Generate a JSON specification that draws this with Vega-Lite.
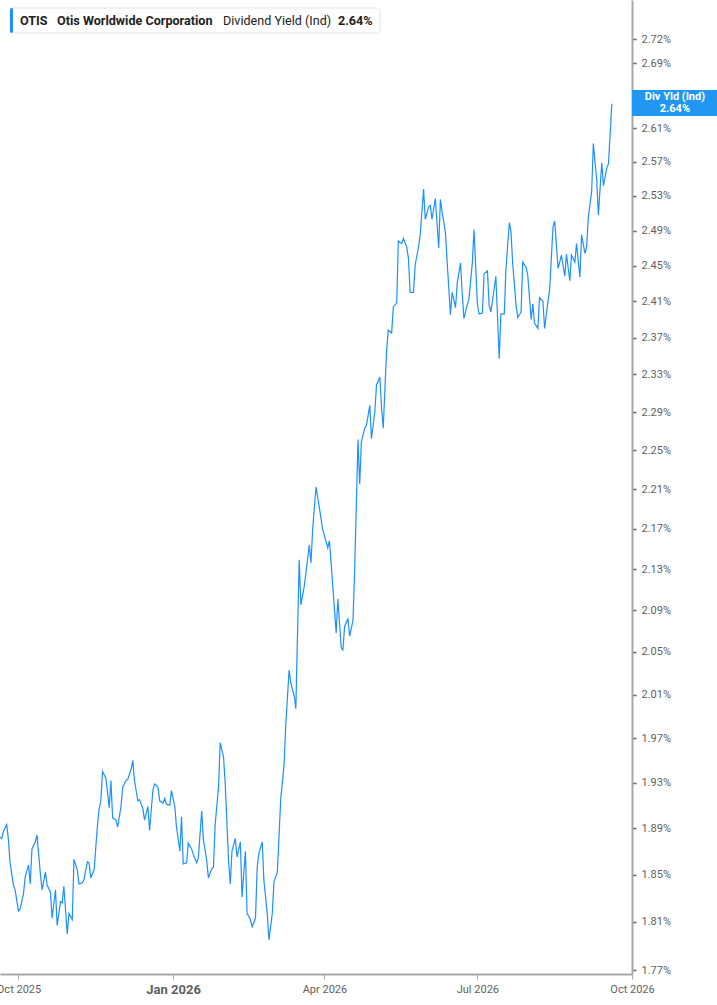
{
  "$schema": "https://vega.github.io/schema/vega-lite/v6.json",
  "width": 632,
  "height": 974,
  "autosize": {"type": "none"},
  "padding": {"left": 0, "top": 0, "right": 85, "bottom": 31},
  "background": "#ffffff",
  "config": {"view": {"stroke": null}, "font": "Roboto"},
  "datasets": {
    "yield": [
      {"date": "2025-09-20", "v": 1.882}, {"date": "2025-09-21", "v": 1.881}, {"date": "2025-09-22", "v": 1.887},
      {"date": "2025-09-24", "v": 1.893}, {"date": "2025-09-25", "v": 1.880}, {"date": "2025-09-26", "v": 1.860},
      {"date": "2025-09-28", "v": 1.841}, {"date": "2025-09-29", "v": 1.837}, {"date": "2025-10-01", "v": 1.819},
      {"date": "2025-10-02", "v": 1.821}, {"date": "2025-10-04", "v": 1.834}, {"date": "2025-10-05", "v": 1.848},
      {"date": "2025-10-07", "v": 1.858}, {"date": "2025-10-08", "v": 1.842}, {"date": "2025-10-09", "v": 1.872},
      {"date": "2025-10-11", "v": 1.878}, {"date": "2025-10-12", "v": 1.884}, {"date": "2025-10-14", "v": 1.851},
      {"date": "2025-10-15", "v": 1.837}, {"date": "2025-10-17", "v": 1.852}, {"date": "2025-10-18", "v": 1.841},
      {"date": "2025-10-20", "v": 1.835}, {"date": "2025-10-21", "v": 1.813}, {"date": "2025-10-23", "v": 1.837},
      {"date": "2025-10-24", "v": 1.807}, {"date": "2025-10-26", "v": 1.827}, {"date": "2025-10-27", "v": 1.826},
      {"date": "2025-10-28", "v": 1.840}, {"date": "2025-10-30", "v": 1.800}, {"date": "2025-10-31", "v": 1.817},
      {"date": "2025-11-02", "v": 1.812}, {"date": "2025-11-03", "v": 1.863}, {"date": "2025-11-05", "v": 1.854},
      {"date": "2025-11-06", "v": 1.842}, {"date": "2025-11-08", "v": 1.843}, {"date": "2025-11-09", "v": 1.846},
      {"date": "2025-11-11", "v": 1.861}, {"date": "2025-11-12", "v": 1.860}, {"date": "2025-11-13", "v": 1.847},
      {"date": "2025-11-15", "v": 1.854}, {"date": "2025-11-17", "v": 1.893}, {"date": "2025-11-18", "v": 1.907},
      {"date": "2025-11-19", "v": 1.914}, {"date": "2025-11-20", "v": 1.940}, {"date": "2025-11-22", "v": 1.934},
      {"date": "2025-11-24", "v": 1.908}, {"date": "2025-11-25", "v": 1.932}, {"date": "2025-11-26", "v": 1.899},
      {"date": "2025-11-28", "v": 1.897}, {"date": "2025-11-29", "v": 1.891}, {"date": "2025-12-01", "v": 1.909},
      {"date": "2025-12-02", "v": 1.926}, {"date": "2025-12-04", "v": 1.932}, {"date": "2025-12-05", "v": 1.933},
      {"date": "2025-12-07", "v": 1.942}, {"date": "2025-12-08", "v": 1.950}, {"date": "2025-12-09", "v": 1.932},
      {"date": "2025-12-11", "v": 1.914}, {"date": "2025-12-12", "v": 1.915}, {"date": "2025-12-14", "v": 1.907},
      {"date": "2025-12-15", "v": 1.897}, {"date": "2025-12-17", "v": 1.909}, {"date": "2025-12-18", "v": 1.888},
      {"date": "2025-12-20", "v": 1.924}, {"date": "2025-12-21", "v": 1.929}, {"date": "2025-12-23", "v": 1.926},
      {"date": "2025-12-24", "v": 1.914}, {"date": "2025-12-26", "v": 1.912}, {"date": "2025-12-27", "v": 1.916},
      {"date": "2025-12-28", "v": 1.911}, {"date": "2025-12-30", "v": 1.910}, {"date": "2025-12-31", "v": 1.923},
      {"date": "2026-01-02", "v": 1.909}, {"date": "2026-01-03", "v": 1.891}, {"date": "2026-01-05", "v": 1.870},
      {"date": "2026-01-06", "v": 1.900}, {"date": "2026-01-07", "v": 1.859}, {"date": "2026-01-09", "v": 1.860},
      {"date": "2026-01-10", "v": 1.877}, {"date": "2026-01-12", "v": 1.872}, {"date": "2026-01-13", "v": 1.867},
      {"date": "2026-01-15", "v": 1.860}, {"date": "2026-01-16", "v": 1.864}, {"date": "2026-01-18", "v": 1.905},
      {"date": "2026-01-19", "v": 1.880}, {"date": "2026-01-21", "v": 1.862}, {"date": "2026-01-22", "v": 1.847},
      {"date": "2026-01-24", "v": 1.855}, {"date": "2026-01-25", "v": 1.856}, {"date": "2026-01-26", "v": 1.893},
      {"date": "2026-01-28", "v": 1.926}, {"date": "2026-01-29", "v": 1.966}, {"date": "2026-01-31", "v": 1.953},
      {"date": "2026-02-01", "v": 1.929}, {"date": "2026-02-03", "v": 1.861}, {"date": "2026-02-04", "v": 1.842},
      {"date": "2026-02-05", "v": 1.870}, {"date": "2026-02-07", "v": 1.881}, {"date": "2026-02-08", "v": 1.865},
      {"date": "2026-02-10", "v": 1.878}, {"date": "2026-02-11", "v": 1.831}, {"date": "2026-02-13", "v": 1.870},
      {"date": "2026-02-14", "v": 1.817}, {"date": "2026-02-16", "v": 1.812}, {"date": "2026-02-17", "v": 1.806},
      {"date": "2026-02-19", "v": 1.813}, {"date": "2026-02-20", "v": 1.856}, {"date": "2026-02-21", "v": 1.868},
      {"date": "2026-02-23", "v": 1.878}, {"date": "2026-02-24", "v": 1.845}, {"date": "2026-02-26", "v": 1.817},
      {"date": "2026-02-27", "v": 1.795}, {"date": "2026-03-01", "v": 1.817}, {"date": "2026-03-02", "v": 1.844},
      {"date": "2026-03-04", "v": 1.852}, {"date": "2026-03-05", "v": 1.883}, {"date": "2026-03-06", "v": 1.915},
      {"date": "2026-03-08", "v": 1.946}, {"date": "2026-03-09", "v": 1.982}, {"date": "2026-03-11", "v": 2.033},
      {"date": "2026-03-12", "v": 2.021}, {"date": "2026-03-14", "v": 2.009}, {"date": "2026-03-15", "v": 1.997},
      {"date": "2026-03-17", "v": 2.139}, {"date": "2026-03-18", "v": 2.095}, {"date": "2026-03-20", "v": 2.113},
      {"date": "2026-03-21", "v": 2.126}, {"date": "2026-03-23", "v": 2.154}, {"date": "2026-03-24", "v": 2.136},
      {"date": "2026-03-25", "v": 2.169}, {"date": "2026-03-27", "v": 2.212}, {"date": "2026-03-28", "v": 2.202},
      {"date": "2026-03-30", "v": 2.180}, {"date": "2026-03-31", "v": 2.169}, {"date": "2026-04-02", "v": 2.157},
      {"date": "2026-04-03", "v": 2.151}, {"date": "2026-04-04", "v": 2.158}, {"date": "2026-04-06", "v": 2.113},
      {"date": "2026-04-08", "v": 2.068}, {"date": "2026-04-09", "v": 2.101}, {"date": "2026-04-11", "v": 2.054},
      {"date": "2026-04-12", "v": 2.052}, {"date": "2026-04-13", "v": 2.074}, {"date": "2026-04-15", "v": 2.082},
      {"date": "2026-04-16", "v": 2.065}, {"date": "2026-04-18", "v": 2.080}, {"date": "2026-04-19", "v": 2.129},
      {"date": "2026-04-21", "v": 2.261}, {"date": "2026-04-22", "v": 2.215}, {"date": "2026-04-23", "v": 2.259},
      {"date": "2026-04-25", "v": 2.273}, {"date": "2026-04-26", "v": 2.276}, {"date": "2026-04-28", "v": 2.297},
      {"date": "2026-04-29", "v": 2.262}, {"date": "2026-05-01", "v": 2.290}, {"date": "2026-05-02", "v": 2.319},
      {"date": "2026-05-04", "v": 2.327}, {"date": "2026-05-05", "v": 2.294}, {"date": "2026-05-06", "v": 2.273},
      {"date": "2026-05-08", "v": 2.356}, {"date": "2026-05-09", "v": 2.378}, {"date": "2026-05-11", "v": 2.375},
      {"date": "2026-05-12", "v": 2.404}, {"date": "2026-05-14", "v": 2.408}, {"date": "2026-05-15", "v": 2.478},
      {"date": "2026-05-17", "v": 2.475}, {"date": "2026-05-18", "v": 2.481}, {"date": "2026-05-20", "v": 2.471},
      {"date": "2026-05-21", "v": 2.458}, {"date": "2026-05-22", "v": 2.420}, {"date": "2026-05-24", "v": 2.420},
      {"date": "2026-05-25", "v": 2.451}, {"date": "2026-05-27", "v": 2.471}, {"date": "2026-05-28", "v": 2.485},
      {"date": "2026-05-30", "v": 2.538}, {"date": "2026-05-31", "v": 2.503}, {"date": "2026-06-02", "v": 2.517},
      {"date": "2026-06-03", "v": 2.519}, {"date": "2026-06-04", "v": 2.503}, {"date": "2026-06-06", "v": 2.527},
      {"date": "2026-06-08", "v": 2.470}, {"date": "2026-06-09", "v": 2.526}, {"date": "2026-06-10", "v": 2.512},
      {"date": "2026-06-12", "v": 2.488}, {"date": "2026-06-13", "v": 2.455}, {"date": "2026-06-15", "v": 2.395},
      {"date": "2026-06-16", "v": 2.420}, {"date": "2026-06-18", "v": 2.403}, {"date": "2026-06-19", "v": 2.430},
      {"date": "2026-06-21", "v": 2.453}, {"date": "2026-06-22", "v": 2.419}, {"date": "2026-06-23", "v": 2.391},
      {"date": "2026-06-25", "v": 2.406}, {"date": "2026-06-26", "v": 2.413}, {"date": "2026-06-28", "v": 2.453},
      {"date": "2026-06-29", "v": 2.491}, {"date": "2026-07-01", "v": 2.407}, {"date": "2026-07-02", "v": 2.396},
      {"date": "2026-07-04", "v": 2.397}, {"date": "2026-07-05", "v": 2.441}, {"date": "2026-07-07", "v": 2.444},
      {"date": "2026-07-08", "v": 2.406}, {"date": "2026-07-09", "v": 2.398}, {"date": "2026-07-11", "v": 2.424},
      {"date": "2026-07-12", "v": 2.438}, {"date": "2026-07-14", "v": 2.347}, {"date": "2026-07-15", "v": 2.396},
      {"date": "2026-07-17", "v": 2.396}, {"date": "2026-07-18", "v": 2.446}, {"date": "2026-07-20", "v": 2.499},
      {"date": "2026-07-21", "v": 2.489}, {"date": "2026-07-22", "v": 2.453}, {"date": "2026-07-24", "v": 2.406},
      {"date": "2026-07-25", "v": 2.392}, {"date": "2026-07-27", "v": 2.398}, {"date": "2026-07-28", "v": 2.454},
      {"date": "2026-07-30", "v": 2.448}, {"date": "2026-07-31", "v": 2.439}, {"date": "2026-08-02", "v": 2.390},
      {"date": "2026-08-03", "v": 2.407}, {"date": "2026-08-04", "v": 2.386}, {"date": "2026-08-06", "v": 2.380},
      {"date": "2026-08-07", "v": 2.414}, {"date": "2026-08-09", "v": 2.410}, {"date": "2026-08-10", "v": 2.380},
      {"date": "2026-08-12", "v": 2.410}, {"date": "2026-08-13", "v": 2.423}, {"date": "2026-08-15", "v": 2.494},
      {"date": "2026-08-16", "v": 2.501}, {"date": "2026-08-18", "v": 2.447}, {"date": "2026-08-19", "v": 2.454},
      {"date": "2026-08-20", "v": 2.462}, {"date": "2026-08-22", "v": 2.438}, {"date": "2026-08-23", "v": 2.463},
      {"date": "2026-08-25", "v": 2.433}, {"date": "2026-08-26", "v": 2.462}, {"date": "2026-08-28", "v": 2.454},
      {"date": "2026-08-29", "v": 2.475}, {"date": "2026-08-31", "v": 2.437}, {"date": "2026-09-01", "v": 2.485},
      {"date": "2026-09-03", "v": 2.464}, {"date": "2026-09-04", "v": 2.471}, {"date": "2026-09-05", "v": 2.505},
      {"date": "2026-09-07", "v": 2.535}, {"date": "2026-09-08", "v": 2.592}, {"date": "2026-09-10", "v": 2.549},
      {"date": "2026-09-11", "v": 2.508}, {"date": "2026-09-13", "v": 2.569}, {"date": "2026-09-14", "v": 2.542},
      {"date": "2026-09-16", "v": 2.563}, {"date": "2026-09-17", "v": 2.568}, {"date": "2026-09-19", "v": 2.640}
    ]
  },
  "layer": [
    {
      "data": {"name": "yield"},
      "mark": {"type": "line", "color": "#1E8FFF", "strokeWidth": 1.2, "interpolate": "linear"},
      "encoding": {
        "x": {
          "field": "date",
          "type": "temporal",
          "scale": {
            "type": "utc",
            "nice": false,
            "domain": [
              {"year": 2025, "month": 9, "date": 20, "utc": true},
              {"year": 2026, "month": 10, "date": 1, "utc": true}
            ]
          },
          "axis": {
            "title": null,
            "grid": false,
            "orient": "bottom",
            "values": [
              {"year": 2025, "month": 10, "date": 1, "utc": true},
              {"year": 2026, "month": 1, "date": 1, "utc": true},
              {"year": 2026, "month": 4, "date": 1, "utc": true},
              {"year": 2026, "month": 7, "date": 1, "utc": true},
              {"year": 2026, "month": 10, "date": 1, "utc": true}
            ],
            "labelExpr": "utcFormat(datum.value, '%b %Y')",
            "labelFont": "Roboto",
            "labelFontSize": {"condition": {"test": "utcmonth(datum.value) === 0", "value": 13}, "value": 11},
            "labelFontWeight": {"condition": {"test": "utcmonth(datum.value) === 0", "value": "bold"}, "value": "normal"},
            "labelColor": "#5f5f5f",
            "labelPadding": 4,
            "labelFlush": false,
            "labelOverlap": false,
            "domainColor": "#a8a8a8",
            "domainWidth": 2,
            "tickColor": "#a8a8a8",
            "tickSize": 5,
            "tickWidth": 1
          }
        },
        "y": {
          "field": "v",
          "type": "quantitative",
          "scale": {"type": "log", "domain": [1.767, 2.7694], "nice": false, "zero": false},
          "axis": {
            "title": null,
            "grid": false,
            "orient": "right",
            "values": [1.77, 1.81, 1.85, 1.89, 1.93, 1.97, 2.01, 2.05, 2.09, 2.13, 2.17, 2.21, 2.25, 2.29, 2.33, 2.37, 2.41, 2.45, 2.49, 2.53, 2.57, 2.61, 2.69, 2.72],
            "labelExpr": "format(datum.value, '.2f') + '%'",
            "labelFont": "Roboto",
            "labelFontSize": 11,
            "labelColor": "#5f5f5f",
            "labelPadding": 5,
            "labelOverlap": false,
            "labelFlush": false,
            "domainColor": "#a8a8a8",
            "domainWidth": 2,
            "tickColor": "#666666",
            "tickSize": 4,
            "tickWidth": 1.5
          }
        }
      }
    },
    {
      "data": {"values": [{}]},
      "mark": {"type": "rect", "fill": "#ffffff", "stroke": "#e4e4e4", "strokeWidth": 1, "cornerRadius": 3},
      "encoding": {
        "x": {"datum": {"year": 2025, "month": 9, "date": 25, "hours": 23, "utc": true}, "type": "temporal"},
        "x2": {"datum": {"year": 2026, "month": 5, "date": 4, "hours": 1, "utc": true}},
        "y": {"datum": 2.7592, "type": "quantitative"},
        "y2": {"datum": 2.7275}
      }
    },
    {
      "data": {"values": [{}]},
      "mark": {"type": "rect", "fill": "#1E8FFF", "cornerRadius": 1.5},
      "encoding": {
        "x": {"datum": {"year": 2025, "month": 9, "date": 25, "hours": 23, "utc": true}, "type": "temporal"},
        "x2": {"datum": {"year": 2025, "month": 9, "date": 27, "hours": 17, "utc": true}},
        "y": {"datum": 2.7592, "type": "quantitative"},
        "y2": {"datum": 2.7275}
      }
    },
    {
      "data": {"values": [{}]},
      "mark": {"type": "text", "text": "OTIS", "font": "Roboto", "fontSize": 12.6, "fontWeight": "bold", "color": "#222222", "align": "left", "baseline": "middle"},
      "encoding": {
        "x": {"datum": {"year": 2025, "month": 10, "date": 1, "hours": 22, "utc": true}, "type": "temporal"},
        "y": {"datum": 2.7433, "type": "quantitative"}
      }
    },
    {
      "data": {"values": [{}]},
      "mark": {"type": "text", "text": "Otis Worldwide Corporation", "font": "Roboto", "fontSize": 12.6, "fontWeight": "bold", "color": "#222222", "align": "left", "baseline": "middle"},
      "encoding": {
        "x": {"datum": {"year": 2025, "month": 10, "date": 23, "hours": 22, "utc": true}, "type": "temporal"},
        "y": {"datum": 2.7433, "type": "quantitative"}
      }
    },
    {
      "data": {"values": [{}]},
      "mark": {"type": "text", "text": "Dividend Yield (Ind)", "font": "Roboto", "fontSize": 12.6, "fontWeight": "normal", "color": "#222222", "align": "left", "baseline": "middle"},
      "encoding": {
        "x": {"datum": {"year": 2026, "month": 1, "date": 30, "hours": 16, "utc": true}, "type": "temporal"},
        "y": {"datum": 2.7433, "type": "quantitative"}
      }
    },
    {
      "data": {"values": [{}]},
      "mark": {"type": "text", "text": "2.64%", "font": "Roboto", "fontSize": 12.6, "fontWeight": "bold", "color": "#222222", "align": "left", "baseline": "middle"},
      "encoding": {
        "x": {"datum": {"year": 2026, "month": 4, "date": 9, "hours": 2, "utc": true}, "type": "temporal"},
        "y": {"datum": 2.7433, "type": "quantitative"}
      }
    },
    {
      "data": {"values": [{}]},
      "mark": {"type": "rect", "fill": "#2196F3"},
      "encoding": {
        "x": {"datum": {"year": 2026, "month": 10, "date": 1, "utc": true}, "type": "temporal"},
        "x2": {"datum": {"year": 2026, "month": 11, "date": 25, "utc": true}},
        "y": {"datum": 2.6568, "type": "quantitative"},
        "y2": {"datum": 2.6251}
      }
    },
    {
      "data": {"values": [{}]},
      "mark": {"type": "text", "text": "Div Yld (Ind)", "font": "Roboto", "fontSize": 11, "fontWeight": "bold", "color": "#ffffff", "align": "center", "baseline": "middle", "dy": -6},
      "encoding": {
        "x": {"datum": {"year": 2026, "month": 10, "date": 26, "hours": 13, "utc": true}, "type": "temporal"},
        "y": {"datum": 2.6409, "type": "quantitative"}
      }
    },
    {
      "data": {"values": [{}]},
      "mark": {"type": "text", "text": "2.64%", "font": "Roboto", "fontSize": 11, "fontWeight": "bold", "color": "#ffffff", "align": "center", "baseline": "middle", "dy": 6},
      "encoding": {
        "x": {"datum": {"year": 2026, "month": 10, "date": 26, "hours": 13, "utc": true}, "type": "temporal"},
        "y": {"datum": 2.6409, "type": "quantitative"}
      }
    }
  ]
}
